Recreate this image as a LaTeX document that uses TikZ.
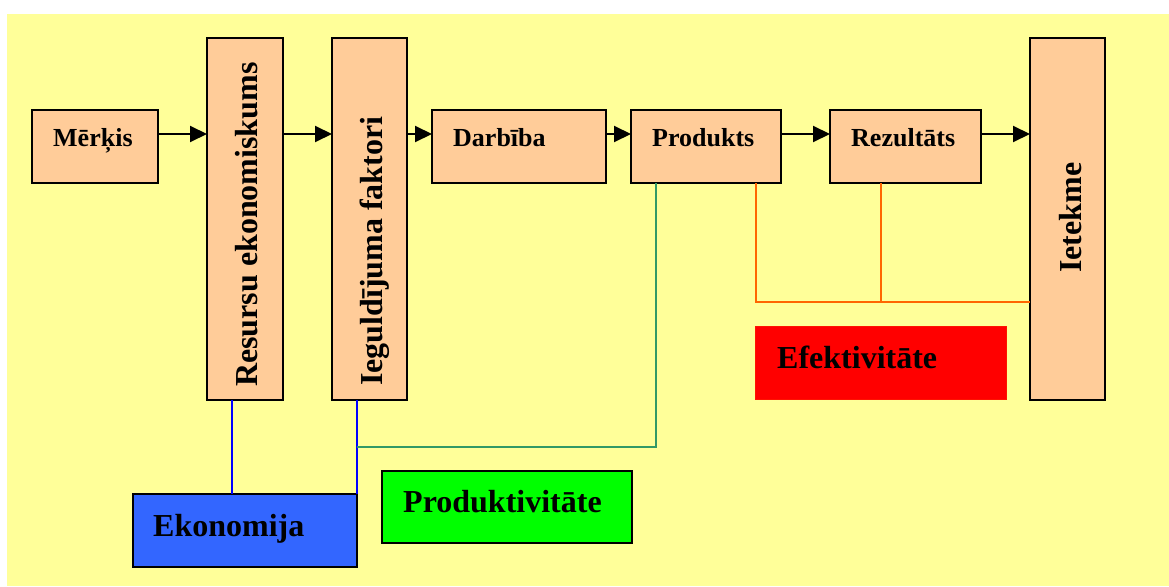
\documentclass[tikz,border=0pt]{standalone}
\usepackage{fontspec}
\setmainfont{Liberation Serif}
\usetikzlibrary{arrows.meta}
\definecolor{bgyellow}{HTML}{FFFF99}
\definecolor{peach}{HTML}{FFCC99}
\definecolor{ekoblue}{HTML}{3366FF}
\definecolor{prodgreen}{HTML}{00FF00}
\definecolor{efred}{HTML}{FF0000}
\definecolor{linkorange}{HTML}{FF6600}
\definecolor{linkteal}{HTML}{339966}
\definecolor{linkblue}{HTML}{0000FF}
\tikzset{
  stage/.style={draw=black, line width=2pt, fill=peach, inner sep=0pt, outer sep=0pt},
  measure/.style={draw=black, line width=2pt, inner sep=0pt, outer sep=0pt},
  flow/.style={line width=2pt, -{Triangle[length=17pt,width=16pt]}},
  small/.style={font=\fontsize{26}{30}\selectfont\bfseries, inner sep=0pt},
  big/.style={font=\fontsize{32}{36}\selectfont\bfseries, inner sep=0pt},
  bluelink/.style={draw=linkblue, line width=1.8pt},
  teallink/.style={draw=linkteal, line width=1.8pt},
  orangelink/.style={draw=linkorange, line width=1.8pt}
}
\begin{document}
\begin{tikzpicture}[x=1pt, y=-1pt]
  \useasboundingbox (0,0) rectangle (1169,586);
  \fill[white] (0,0) rectangle (1169,586);
  \fill[bgyellow] (7,14) rectangle (1169,586);

  % chain of stages
  \node[stage, minimum width=126, minimum height=73] (m) at (95,146.5) {};
  \node[stage, minimum width=76, minimum height=362] (r) at (245,219) {};
  \node[stage, minimum width=75, minimum height=362] (g) at (369.5,219) {};
  \node[stage, minimum width=174, minimum height=73] (d) at (519,146.5) {};
  \node[stage, minimum width=150, minimum height=73] (p) at (706,146.5) {};
  \node[stage, minimum width=151, minimum height=73] (z) at (905.5,146.5) {};
  \node[stage, minimum width=75, minimum height=362] (e) at (1067.5,219) {};

  % measures
  \node[measure, fill=ekoblue, minimum width=224, minimum height=73] (ek) at (245,530.5) {};
  \node[measure, fill=prodgreen, minimum width=250, minimum height=72] (pr) at (507,507) {};
  \node[draw=red!85!orange, line width=1pt, fill=efred, inner sep=0pt, outer sep=0pt,
        minimum width=251, minimum height=73] (ef) at (880.5,362.5) {};

  % labels
  \node[small, anchor=base west] (tm) at (53,146) {Mērķis};
  \node[small, anchor=base west] (td) at (453,146) {Darbība};
  \node[small, anchor=base west] (tp) at (652,146) {Produkts};
  \node[small, anchor=base west] (tz) at (851,146) {Rezultāts};
  \node[big, rotate=90, anchor=base west] (tr) at (257,387) {Resursu ekonomiskums};
  \node[big, rotate=90, anchor=base west] (tg) at (382,386) {Ieguldījuma faktori};
  \node[big, rotate=90, anchor=base west] (te) at (1081,273) {Ietekme};
  \node[big, anchor=base west] (tek) at (153,536) {Ekonomija};
  \node[big, anchor=base west] (tpr) at (403,512) {Produktivitāte};
  \node[big, anchor=base west] (tef) at (777,368) {Efektivitāte};

  % flow arrows
  \draw[flow] ([yshift=12.5pt]m.east) -- ([yshift=12.5pt]m.east -| r.west);
  \draw[flow] ([yshift=12.5pt]m.east -| r.east) -- ([yshift=12.5pt]m.east -| g.west);
  \draw[flow] ([yshift=12.5pt]m.east -| g.east) -- ([yshift=12.5pt]d.west);
  \draw[flow] ([yshift=12.5pt]d.east) -- ([yshift=12.5pt]p.west);
  \draw[flow] ([yshift=12.5pt]p.east) -- ([yshift=12.5pt]z.west);
  \draw[flow] ([yshift=12.5pt]z.east) -- ([yshift=12.5pt]z.east -| e.west);

  % measure links
  \coordinate (pj) at (357,447);
  \coordinate (ej) at (1030,302);
  \draw[bluelink] ([xshift=-13pt]r.south) -- ([xshift=-13pt]r.south |- ek.north);
  \draw[bluelink] (ek.north east |- g.south) -- (ek.north east);
  \draw[teallink] ([xshift=-50pt]p.south) |- (pj);
  \draw[orangelink] ([xshift=50pt]p.south) |- (ej);
  \draw[orangelink] ([xshift=-24.5pt]z.south) -- ([xshift=-24.5pt]z.south |- ej);
\end{tikzpicture}
\end{document}
